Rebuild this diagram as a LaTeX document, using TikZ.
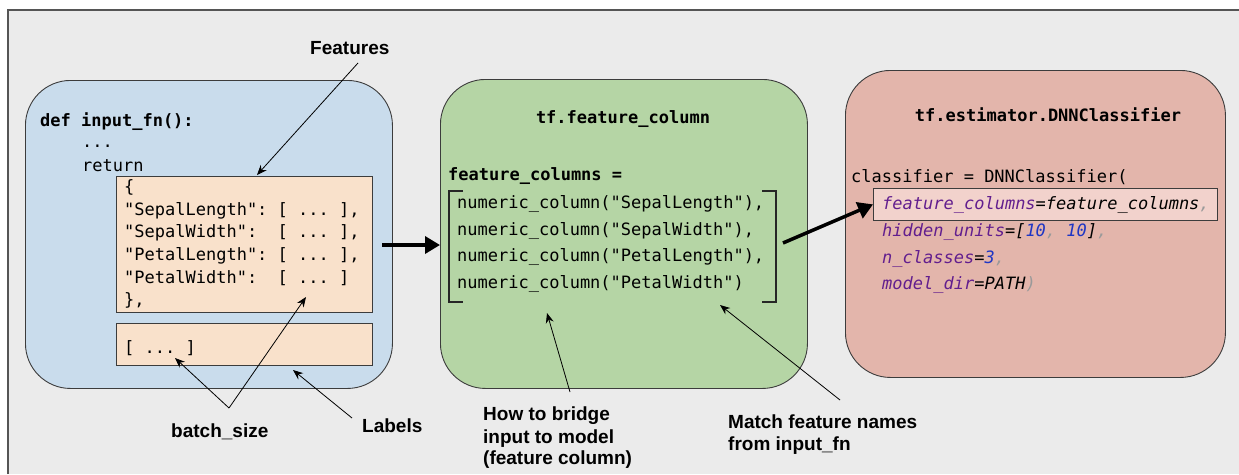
\documentclass[tikz,border=0pt]{standalone}
\usepackage{fontspec}
\setmainfont{Liberation Sans}
\setmonofont{DejaVu Sans Mono}
\usetikzlibrary{arrows.meta}
\definecolor{bgc}{HTML}{EBEBEB}
\definecolor{framec}{HTML}{555555}
\definecolor{blueF}{HTML}{C9DCEC}
\definecolor{greenF}{HTML}{B5D5A5}
\definecolor{redF}{HTML}{E3B5AB}
\definecolor{orangeF}{HTML}{F9E1CB}
\definecolor{hlF}{HTML}{F2D2CC}
\definecolor{purp}{HTML}{621E8E}
\definecolor{numb}{HTML}{1F36C4}
\definecolor{comm}{HTML}{9A9A9A}
\definecolor{edge}{HTML}{3C3C3C}
\tikzset{
  code/.style={font=\ttfamily\fontsize{17}{20}\selectfont, inner sep=0pt, anchor=base west},
  dict/.style={font=\ttfamily\fontsize{17}{20}\selectfont, inner sep=0pt, anchor=base west},
  lbl/.style={font=\bfseries\fontsize{19}{22}\selectfont, inner sep=0pt, anchor=base west},
  thinarrow/.style={-{Stealth[length=10pt,width=8pt]}, line width=0.8pt},
  thickarrow/.style={-{Triangle[length=15pt,width=17pt]}, line width=3.5pt},
  panel/.style={draw=edge, line width=0.9pt, rounded corners=45pt, anchor=north west, inner sep=0pt},
  subbox/.style={draw=edge, line width=0.8pt, fill=orangeF, anchor=north west, inner sep=0pt},
  brk/.style={line width=2pt, draw=black!85}
}
\begin{document}
\begin{tikzpicture}[x=1pt,y=-1pt]
\useasboundingbox (0,0) rectangle (1239,474);
\fill[white] (0,0) rectangle (1239,474);
\fill[bgc] (8,10) rectangle (1239,474);
\draw[framec, line width=1.5pt] (8,474) -- (8,10) -- (1239,10);

% panels
\node[panel, fill=blueF, minimum width=367pt, minimum height=308pt] (blue) at (25,80) {};
\node[panel, fill=greenF, minimum width=367pt, minimum height=309pt] (green) at (440,79) {};
\node[panel, fill=redF, minimum width=380pt, minimum height=307pt] (red) at (845,70) {};

% blue content
\node[subbox, minimum width=256pt, minimum height=136pt] (featbox) at (116,176) {};
\node[subbox, minimum width=256pt, minimum height=42pt] (labbox) at (116,323) {};
\node[code, font=\ttfamily\bfseries\fontsize{17}{20}\selectfont] (def) at (40,126) {def input\_fn():};
\node[code] (dots) at (82,147) {...};
\node[code] (ret) at (82,171) {return};
\node[dict] (d0) at (124,192) {\{};
\node[dict] (d1) at (124,215) {"SepalLength":~[~...~],};
\node[dict] (d2) at (124,237.5) {"SepalWidth":~~[~...~],};
\node[dict] (d3) at (124,260) {"PetalLength":~[~...~],};
\node[dict] (d4) at (124,283) {"PetalWidth":~~[~...~]};
\node[dict] (d5) at (124,305.5) {\},};
\node[dict] (lb) at (124,353) {[~...~]};

% green content
\node[code, font=\ttfamily\bfseries\fontsize{17}{20}\selectfont, anchor=base] (gt) at (623,123) {tf.feature\_column};
\node[code, font=\ttfamily\bfseries\fontsize{17}{20}\selectfont] (fc) at (448,180) {feature\_columns =};
\node[code] (n1) at (457,208) {numeric\_column("SepalLength"),};
\node[code] (n2) at (457,235) {numeric\_column("SepalWidth"),};
\node[code] (n3) at (457,261) {numeric\_column("PetalLength"),};
\node[code] (n4) at (457,288) {numeric\_column("PetalWidth")};
\draw[brk] (463,191) -- (449,191) -- (449,302) -- (463,302);
\draw[brk] (762,191) -- (776,191) -- (776,302) -- (762,302);

% red content
\node[code, font=\ttfamily\bfseries\fontsize{17}{20}\selectfont, anchor=base] (rt) at (1048,121) {tf.estimator.DNNClassifier};
\node[code] (cl) at (851,182) {classifier = DNNClassifier(};
\node[draw=edge, line width=0.8pt, fill=hlF, anchor=north west, inner sep=0pt, minimum width=344pt, minimum height=32pt] (hl) at (873,188) {};
\node[code, font=\ttfamily\itshape\fontsize{17}{20}\selectfont] (p1) at (882,209) {\textcolor{purp}{feature\_columns}=feature\_columns\textcolor{comm}{,}};
\node[code, font=\ttfamily\itshape\fontsize{17}{20}\selectfont] (p2) at (882,236) {\textcolor{purp}{hidden\_units}=[\textcolor{numb}{10}\textcolor{comm}{,} \textcolor{numb}{10}]\textcolor{comm}{,}};
\node[code, font=\ttfamily\itshape\fontsize{17}{20}\selectfont] (p3) at (882,263) {\textcolor{purp}{n\_classes}=\textcolor{numb}{3}\textcolor{comm}{,}};
\node[code, font=\ttfamily\itshape\fontsize{17}{20}\selectfont] (p4) at (882,289) {\textcolor{purp}{model\_dir}=PATH\textcolor{comm}{)}};

% labels
\node[lbl] (features) at (310,54) {Features};
\node[lbl] (batch) at (171,437) {batch\_size};
\node[lbl] (labels) at (362,432) {Labels};
\node[lbl] (how1) at (483,420) {How to bridge};
\node[lbl] (how2) at (483,443) {input to model};
\node[lbl] (how3) at (483,464) {(feature column)};
\node[lbl] (match1) at (728,428) {Match feature names};
\node[lbl] (match2) at (728,450) {from input\_fn};

% thin arrows
\coordinate (fS) at (358,63);
\coordinate (fT) at (257,175);
\coordinate (bS) at (229,408);
\coordinate (bT1) at (175,358);
\coordinate (bT2) at (306,297);
\coordinate (lS) at (352,418);
\coordinate (lT) at (293,370);
\coordinate (hS) at (570,392);
\coordinate (hT) at (547,313);
\coordinate (mS) at (840,400);
\coordinate (mT) at (720,305);
\draw[thinarrow] (fS) -- (fT);
\draw[thinarrow] (bS) -- (bT1);
\draw[thinarrow] (bS) -- (bT2);
\draw[thinarrow] (lS) -- (lT);
\draw[thinarrow] (hS) -- (hT);
\draw[thinarrow] (mS) -- (mT);

% thick arrows
\coordinate (a1) at (382,245);
\coordinate (a2) at (783,243);
\draw[thickarrow] (a1) -- (a1 -| green.west);
\draw[thickarrow] (a2) -- (hl.west);
\end{tikzpicture}
\end{document}
